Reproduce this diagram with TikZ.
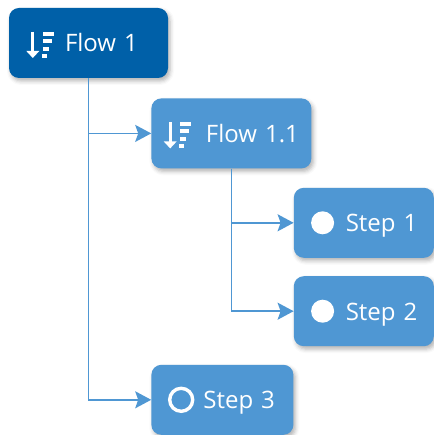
\documentclass[tikz,border=0pt]{standalone}
\usepackage{fontspec}
\setmainfont{Open Sans}
\usetikzlibrary{arrows.meta,positioning,shadows.blur}
\definecolor{darkblue}{HTML}{0060A8}
\definecolor{lightblue}{HTML}{4F97D3}
\tikzset{
    %Define standard arrow tip
    >={Stealth[length=16pt,width=17pt,inset=3pt]},
    %Define style for boxes
    box/.style={
           rectangle,
           rounded corners=10pt,
           fill=lightblue,
           text=white,
           font=\fontsize{24}{28}\selectfont,
           align=left,
           inner xsep=0pt,
           inner ysep=0pt,
           text width=#1,
           text height=18pt,
           text depth=0pt,
           minimum height=70pt,
           blur shadow={shadow xshift=2pt,shadow yshift=-3pt,shadow blur radius=4pt,shadow opacity=30}},
    % Define arrow style
    imply/.style={
           ->,
           draw=lightblue,
           line width=1.7pt},
    dot/.style={
           circle,
           fill=white,
           inner sep=0pt,
           minimum size=23pt},
    ring/.style={
           circle,
           draw=white,
           line width=3.4pt,
           inner sep=0pt,
           minimum size=23pt},
    sorticon/.pic={
           \draw[white,line width=3pt] (0,11) -- (0,-10);
           \fill[white] (-6.5,-8) -- (6.5,-8) -- (0,-15) -- cycle;
           \fill[white] (10,7) rectangle (21,11);
           \fill[white] (10,0) rectangle (19,4);
           \fill[white] (10,-8) rectangle (16,-4);
           \fill[white] (9,-15) rectangle (14,-11);}
}
\begin{document}
\begin{tikzpicture}[x=1pt,y=1pt]
    \useasboundingbox (0,0) rectangle (433,-435);
 %nodes
    \node[box=159pt, fill=darkblue] (flow1) at (88.5,-43) {\hspace*{56pt}Flow 1};
    \node[box=160pt, below right=20pt and -17pt of flow1] (flow11) {\hspace*{54.5pt}Flow 1.1};
    \node[box=140pt, below right=19pt and -18pt of flow11] (step1) {\hspace*{52pt}Step 1};
    \node[box=140pt, below=18pt of step1] (step2) {\hspace*{52pt}Step 2};
    \node[box=142pt, below=196pt of flow11.south west, anchor=north west] (step3) {\hspace*{52pt}Step 3};
 %icons
    \pic at ([xshift=24pt]flow1.west) {sorticon};
    \pic at ([xshift=19pt]flow11.west) {sorticon};
    \node[dot] (dot1) at ([xshift=29pt]step1.west) {};
    \node[dot] (dot2) at ([xshift=29pt]step2.west) {};
    \node[ring] (ring3) at ([xshift=30pt]step3.west) {};
 %edges
    \draw[imply] (flow1) |- (flow11);
    \draw[imply] (flow1) |- (step3);
    \draw[imply] (flow11) |- (step1);
    \draw[imply] (flow11) |- (step2);
\end{tikzpicture}
\end{document}
